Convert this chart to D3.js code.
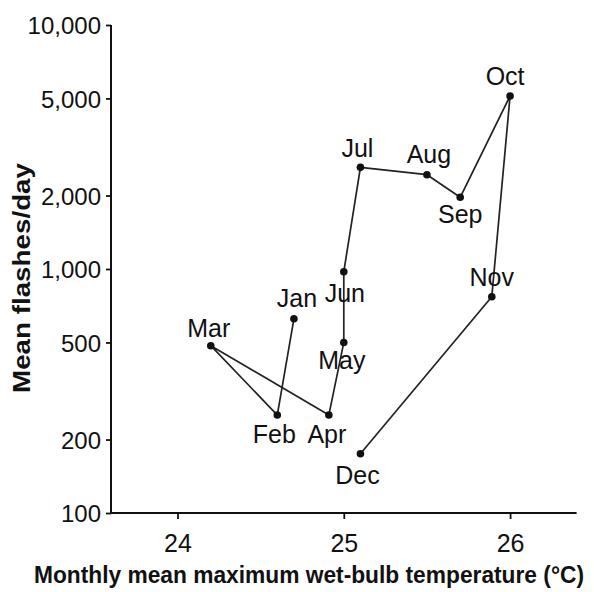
<!DOCTYPE html>
<html>
<head>
<meta charset="utf-8">
<script src="https://cdn.jsdelivr.net/npm/d3@7"></script>
<style>
  html, body { margin: 0; padding: 0; background: #fff; }
  svg { display: block; }
  text { font-family: "Liberation Sans", Arial, Helvetica, sans-serif; fill: #111; }
</style>
</head>
<body>
<svg id="chart" width="594" height="592"></svg>
<script>
// ---- Data ----
const months = ["Jan","Feb","Mar","Apr","May","Jun","Jul","Aug","Sep","Oct","Nov","Dec"];
const temperature = [24.70, 24.60, 24.20, 24.91, 25.00, 25.00, 25.10, 25.50, 25.70, 26.00, 25.89, 25.10];
const flashes = [625, 252, 485, 252, 500, 975, 2610, 2435, 1967, 5120, 770, 175];
const xTicks = [24, 25, 26];
const yTicks = [100, 200, 500, 1000, 2000, 5000, 10000];
const xTitle = "Monthly mean maximum wet-bulb temperature (°C)";
const yTitle = "Mean flashes/day";

// Label placement (layout only): offset of label centre/baseline from its point
const labelOffset = {
  Jan: [3, -12], Feb: [-3, 28], Mar: [-2, -9], Apr: [-2, 28],
  May: [-2, 27], Jun: [1, 30], Jul: [-3, -10], Aug: [2, -12],
  Sep: [0, 26], Oct: [-5, -11], Nov: [0, -11], Dec: [-3, 30]
};

const svg = d3.select("#chart");
const ink = "#111";

const x = d3.scaleLinear().domain([23.6, 26.4]).range([111, 576.6]);
const y = d3.scaleLog().domain([100, 10000]).range([513, 25]);

// Axes
const fmt = d3.format(",");
const yAxis = svg.append("g")
  .attr("transform", `translate(${x.range()[0]},0)`)
  .call(d3.axisLeft(y).tickValues(yTicks).tickFormat(fmt).tickSize(5).tickPadding(5));
yAxis.select(".domain").attr("d", `M0,${y(10000)}V${y(100)}`);

const xAxis = svg.append("g")
  .attr("transform", `translate(0,${y.range()[0]})`)
  .call(d3.axisBottom(x).tickValues(xTicks).tickFormat(d3.format("d")).tickSize(6));
xAxis.select(".domain").attr("d", `M${x.range()[0]},0H${x.range()[1]}`);

[yAxis, xAxis].forEach(g => {
  g.selectAll(".domain").attr("stroke", ink).attr("stroke-width", 2).attr("fill", "none");
  g.selectAll(".tick line").attr("stroke", ink).attr("stroke-width", 1.8);
  g.selectAll(".tick text")
    .style("font-family", '"Liberation Sans", Arial, sans-serif')
    .style("font-size", "24px").attr("fill", ink);
});
yAxis.selectAll(".tick text").attr("dy", "0.36em");
xAxis.selectAll(".tick text").attr("y", 39).attr("dy", 0).style("font-size", "25px");

// Axis titles
svg.append("text")
  .attr("x", 34).attr("y", 583)
  .attr("textLength", 550).attr("lengthAdjust", "spacingAndGlyphs")
  .style("font-family", '"Liberation Sans Narrow", "Liberation Sans", Arial, sans-serif')
  .style("font-weight", "bold").style("font-size", "23px")
  .text(xTitle);

svg.append("text")
  .attr("transform", "translate(30,278) rotate(-90)")
  .attr("text-anchor", "middle")
  .attr("textLength", 230).attr("lengthAdjust", "spacingAndGlyphs")
  .style("font-family", '"Liberation Sans Narrow", "Liberation Sans", Arial, sans-serif')
  .style("font-weight", "bold").style("font-size", "24px")
  .text(yTitle);

// Data
const data = months.map((m, i) => ({ m, t: temperature[i], f: flashes[i] }));

const line = d3.line().x(d => x(d.t)).y(d => y(d.f));
svg.append("path")
  .datum(data)
  .attr("d", line)
  .attr("fill", "none")
  .attr("stroke", "#222")
  .attr("stroke-width", 1.7)
  .attr("stroke-linejoin", "round");

svg.append("g").selectAll("circle")
  .data(data).join("circle")
  .attr("cx", d => x(d.t)).attr("cy", d => y(d.f))
  .attr("r", 3.8).attr("fill", ink);

svg.append("g").selectAll("text")
  .data(data).join("text")
  .attr("x", d => x(d.t) + labelOffset[d.m][0])
  .attr("y", d => y(d.f) + labelOffset[d.m][1])
  .attr("text-anchor", "middle")
  .style("font-size", "25px")
  .text(d => d.m);
</script>
</body>
</html>
